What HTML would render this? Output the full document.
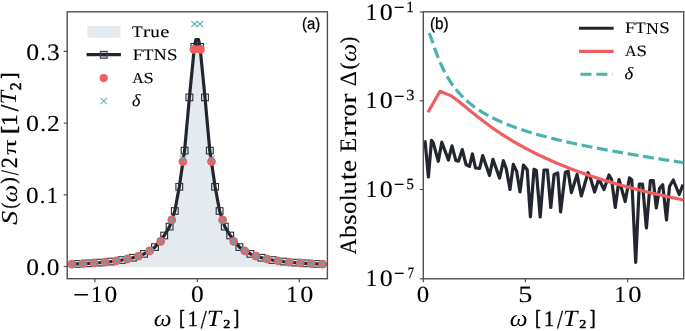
<!DOCTYPE html><html><head><meta charset="utf-8"><style>html,body{margin:0;padding:0;background:#fff;}svg{display:block;font-kerning:none;will-change:transform;} text{font-kerning:none;text-rendering:geometricPrecision;}</style></head><body><svg width="685" height="331" viewBox="0 0 685 331"><defs><clipPath id="clipL"><rect x="67.20" y="11.80" width="260.20" height="266.90"/></clipPath><clipPath id="clipR"><rect x="423.30" y="11.80" width="260.40" height="267.00"/></clipPath></defs><rect width="685" height="331" fill="#fff"/><path d="M67.20 266.90 L67.20 264.29 L67.85 264.26 L68.50 264.24 L69.15 264.22 L69.80 264.20 L70.45 264.17 L71.10 264.15 L71.75 264.12 L72.40 264.10 L73.05 264.08 L73.70 264.05 L74.36 264.02 L75.01 264.00 L75.66 263.97 L76.31 263.94 L76.96 263.92 L77.61 263.89 L78.26 263.86 L78.91 263.83 L79.56 263.80 L80.21 263.77 L80.86 263.74 L81.51 263.71 L82.16 263.68 L82.81 263.65 L83.46 263.62 L84.11 263.58 L84.76 263.55 L85.41 263.52 L86.06 263.48 L86.72 263.45 L87.37 263.41 L88.02 263.37 L88.67 263.34 L89.32 263.30 L89.97 263.26 L90.62 263.22 L91.27 263.18 L91.92 263.14 L92.57 263.10 L93.22 263.06 L93.87 263.02 L94.52 262.97 L95.17 262.93 L95.82 262.88 L96.47 262.84 L97.12 262.79 L97.77 262.74 L98.42 262.69 L99.07 262.64 L99.72 262.59 L100.38 262.54 L101.03 262.49 L101.68 262.43 L102.33 262.38 L102.98 262.32 L103.63 262.27 L104.28 262.21 L104.93 262.15 L105.58 262.09 L106.23 262.03 L106.88 261.96 L107.53 261.90 L108.18 261.83 L108.83 261.76 L109.48 261.69 L110.13 261.62 L110.78 261.55 L111.43 261.48 L112.08 261.40 L112.73 261.33 L113.39 261.25 L114.04 261.17 L114.69 261.08 L115.34 261.00 L115.99 260.91 L116.64 260.83 L117.29 260.73 L117.94 260.64 L118.59 260.55 L119.24 260.45 L119.89 260.35 L120.54 260.25 L121.19 260.14 L121.84 260.04 L122.49 259.93 L123.14 259.82 L123.79 259.70 L124.44 259.58 L125.09 259.46 L125.75 259.34 L126.40 259.21 L127.05 259.08 L127.70 258.94 L128.35 258.80 L129.00 258.66 L129.65 258.51 L130.30 258.36 L130.95 258.21 L131.60 258.05 L132.25 257.89 L132.90 257.72 L133.55 257.54 L134.20 257.37 L134.85 257.18 L135.50 256.99 L136.15 256.80 L136.80 256.60 L137.45 256.39 L138.10 256.18 L138.75 255.95 L139.41 255.73 L140.06 255.49 L140.71 255.25 L141.36 255.00 L142.01 254.74 L142.66 254.47 L143.31 254.20 L143.96 253.91 L144.61 253.62 L145.26 253.31 L145.91 252.99 L146.56 252.67 L147.21 252.33 L147.86 251.97 L148.51 251.61 L149.16 251.23 L149.81 250.84 L150.46 250.43 L151.11 250.01 L151.76 249.57 L152.42 249.11 L153.07 248.63 L153.72 248.14 L154.37 247.62 L155.02 247.09 L155.67 246.53 L156.32 245.94 L156.97 245.34 L157.62 244.70 L158.27 244.04 L158.92 243.35 L159.57 242.63 L160.22 241.87 L160.87 241.08 L161.52 240.25 L162.17 239.39 L162.82 238.48 L163.47 237.53 L164.12 236.53 L164.78 235.48 L165.43 234.38 L166.08 233.22 L166.73 232.00 L167.38 230.72 L168.03 229.37 L168.68 227.95 L169.33 226.45 L169.98 224.87 L170.63 223.20 L171.28 221.44 L171.93 219.57 L172.58 217.60 L173.23 215.51 L173.88 213.31 L174.53 210.97 L175.18 208.49 L175.83 205.86 L176.48 203.07 L177.13 200.12 L177.78 196.98 L178.44 193.65 L179.09 190.11 L179.74 186.36 L180.39 182.38 L181.04 178.17 L181.69 173.69 L182.34 168.96 L182.99 163.95 L183.64 158.66 L184.29 153.09 L184.94 147.22 L185.59 141.08 L186.24 134.65 L186.89 127.96 L187.54 121.03 L188.19 113.90 L188.84 106.60 L189.49 99.20 L190.14 91.77 L190.80 84.39 L191.45 77.17 L192.10 70.23 L192.75 63.67 L193.40 57.65 L194.05 52.29 L194.70 47.73 L195.35 44.08 L196.00 41.45 L196.65 39.91 L197.30 39.51 L197.95 40.27 L198.60 42.15 L199.25 45.10 L199.90 49.04 L200.55 53.86 L201.20 59.44 L201.85 65.64 L202.50 72.33 L203.15 79.37 L203.81 86.65 L204.46 94.05 L205.11 101.48 L205.76 108.86 L206.41 116.11 L207.06 123.18 L207.71 130.04 L208.36 136.65 L209.01 143.00 L209.66 149.06 L210.31 154.83 L210.96 160.32 L211.61 165.52 L212.26 170.44 L212.91 175.10 L213.56 179.49 L214.21 183.63 L214.86 187.54 L215.51 191.22 L216.16 194.69 L216.81 197.96 L217.47 201.04 L218.12 203.95 L218.77 206.68 L219.42 209.27 L220.07 211.70 L220.72 214.00 L221.37 216.17 L222.02 218.22 L222.67 220.16 L223.32 221.99 L223.97 223.72 L224.62 225.37 L225.27 226.92 L225.92 228.40 L226.57 229.80 L227.22 231.12 L227.87 232.38 L228.52 233.58 L229.17 234.72 L229.82 235.81 L230.48 236.84 L231.13 237.83 L231.78 238.76 L232.43 239.66 L233.08 240.51 L233.73 241.33 L234.38 242.11 L235.03 242.85 L235.68 243.57 L236.33 244.25 L236.98 244.90 L237.63 245.53 L238.28 246.13 L238.93 246.70 L239.58 247.25 L240.23 247.78 L240.88 248.29 L241.53 248.78 L242.18 249.25 L242.83 249.70 L243.49 250.14 L244.14 250.56 L244.79 250.96 L245.44 251.35 L246.09 251.72 L246.74 252.08 L247.39 252.43 L248.04 252.77 L248.69 253.09 L249.34 253.41 L249.99 253.71 L250.64 254.00 L251.29 254.28 L251.94 254.56 L252.59 254.82 L253.24 255.08 L253.89 255.33 L254.54 255.57 L255.19 255.80 L255.85 256.02 L256.50 256.24 L257.15 256.45 L257.80 256.66 L258.45 256.86 L259.10 257.05 L259.75 257.24 L260.40 257.42 L261.05 257.60 L261.70 257.77 L262.35 257.94 L263.00 258.10 L263.65 258.26 L264.30 258.41 L264.95 258.56 L265.60 258.70 L266.25 258.85 L266.90 258.98 L267.55 259.12 L268.20 259.25 L268.86 259.37 L269.51 259.50 L270.16 259.62 L270.81 259.74 L271.46 259.85 L272.11 259.96 L272.76 260.07 L273.41 260.18 L274.06 260.28 L274.71 260.38 L275.36 260.48 L276.01 260.58 L276.66 260.67 L277.31 260.76 L277.96 260.85 L278.61 260.94 L279.26 261.03 L279.91 261.11 L280.56 261.19 L281.21 261.27 L281.87 261.35 L282.52 261.43 L283.17 261.50 L283.82 261.57 L284.47 261.65 L285.12 261.72 L285.77 261.78 L286.42 261.85 L287.07 261.92 L287.72 261.98 L288.37 262.04 L289.02 262.11 L289.67 262.17 L290.32 262.23 L290.97 262.28 L291.62 262.34 L292.27 262.40 L292.92 262.45 L293.57 262.50 L294.22 262.56 L294.88 262.61 L295.53 262.66 L296.18 262.71 L296.83 262.76 L297.48 262.80 L298.13 262.85 L298.78 262.90 L299.43 262.94 L300.08 262.99 L300.73 263.03 L301.38 263.07 L302.03 263.11 L302.68 263.15 L303.33 263.20 L303.98 263.23 L304.63 263.27 L305.28 263.31 L305.93 263.35 L306.58 263.39 L307.23 263.42 L307.88 263.46 L308.54 263.49 L309.19 263.53 L309.84 263.56 L310.49 263.59 L311.14 263.63 L311.79 263.66 L312.44 263.69 L313.09 263.72 L313.74 263.75 L314.39 263.78 L315.04 263.81 L315.69 263.84 L316.34 263.87 L316.99 263.90 L317.64 263.93 L318.29 263.95 L318.94 263.98 L319.59 264.01 L320.24 264.03 L320.89 264.06 L321.55 264.08 L322.20 264.11 L322.85 264.13 L323.50 264.16 L324.15 264.18 L324.80 264.20 L325.45 264.23 L326.10 264.25 L326.75 264.27 L327.40 264.29 L327.40 266.90 Z" fill="#e4eaed"/>
<g clip-path="url(#clipL)"><path d="M66.20 264.32 L77.40 263.90 L88.50 263.35 L99.60 262.60 L110.70 261.56 L121.80 260.04 L132.90 257.72 L144.00 253.89 L155.00 247.10 L164.20 235.50 L169.60 226.60 L174.80 211.00 L179.30 186.80 L184.60 150.60 L189.40 97.40 L194.40 46.80 L195.90 39.70 L198.50 39.70 L200.00 46.80 L205.00 97.40 L209.80 150.60 L215.10 186.80 L219.60 211.00 L224.80 226.60 L230.20 235.50 L239.40 247.10 L250.40 253.89 L261.50 257.72 L272.60 260.04 L283.70 261.56 L294.80 262.60 L305.90 263.35 L317.00 263.90 L328.20 264.32" fill="none" stroke="#24262f" stroke-width="3.2" stroke-linejoin="round"/>
<rect x="191.00" y="43.50" width="6.8" height="6.6" fill="none" stroke="#2b2d38" stroke-width="1.1"/>
<rect x="196.60" y="43.50" width="6.8" height="6.6" fill="none" stroke="#2b2d38" stroke-width="1.1"/>
<rect x="186.00" y="94.10" width="6.8" height="6.6" fill="none" stroke="#2b2d38" stroke-width="1.1"/>
<rect x="201.60" y="94.10" width="6.8" height="6.6" fill="none" stroke="#2b2d38" stroke-width="1.1"/>
<rect x="181.20" y="147.30" width="6.8" height="6.6" fill="none" stroke="#2b2d38" stroke-width="1.1"/>
<rect x="206.40" y="147.30" width="6.8" height="6.6" fill="none" stroke="#2b2d38" stroke-width="1.1"/>
<rect x="175.90" y="183.50" width="6.8" height="6.6" fill="none" stroke="#2b2d38" stroke-width="1.1"/>
<rect x="211.70" y="183.50" width="6.8" height="6.6" fill="none" stroke="#2b2d38" stroke-width="1.1"/>
<rect x="171.40" y="207.70" width="6.8" height="6.6" fill="none" stroke="#2b2d38" stroke-width="1.1"/>
<rect x="216.20" y="207.70" width="6.8" height="6.6" fill="none" stroke="#2b2d38" stroke-width="1.1"/>
<rect x="166.20" y="223.30" width="6.8" height="6.6" fill="none" stroke="#2b2d38" stroke-width="1.1"/>
<rect x="221.40" y="223.30" width="6.8" height="6.6" fill="none" stroke="#2b2d38" stroke-width="1.1"/>
<rect x="160.80" y="232.20" width="6.8" height="6.6" fill="none" stroke="#2b2d38" stroke-width="1.1"/>
<rect x="226.80" y="232.20" width="6.8" height="6.6" fill="none" stroke="#2b2d38" stroke-width="1.1"/>
<rect x="151.60" y="243.80" width="6.8" height="6.6" fill="none" stroke="#2b2d38" stroke-width="1.1"/>
<rect x="236.00" y="243.80" width="6.8" height="6.6" fill="none" stroke="#2b2d38" stroke-width="1.1"/>
<rect x="140.60" y="250.59" width="6.8" height="6.6" fill="none" stroke="#2b2d38" stroke-width="1.1"/>
<rect x="247.00" y="250.59" width="6.8" height="6.6" fill="none" stroke="#2b2d38" stroke-width="1.1"/>
<rect x="129.50" y="254.42" width="6.8" height="6.6" fill="none" stroke="#2b2d38" stroke-width="1.1"/>
<rect x="258.10" y="254.42" width="6.8" height="6.6" fill="none" stroke="#2b2d38" stroke-width="1.1"/>
<rect x="118.40" y="256.74" width="6.8" height="6.6" fill="none" stroke="#2b2d38" stroke-width="1.1"/>
<rect x="269.20" y="256.74" width="6.8" height="6.6" fill="none" stroke="#2b2d38" stroke-width="1.1"/>
<rect x="107.30" y="258.26" width="6.8" height="6.6" fill="none" stroke="#2b2d38" stroke-width="1.1"/>
<rect x="280.30" y="258.26" width="6.8" height="6.6" fill="none" stroke="#2b2d38" stroke-width="1.1"/>
<rect x="96.20" y="259.30" width="6.8" height="6.6" fill="none" stroke="#2b2d38" stroke-width="1.1"/>
<rect x="291.40" y="259.30" width="6.8" height="6.6" fill="none" stroke="#2b2d38" stroke-width="1.1"/>
<rect x="85.10" y="260.05" width="6.8" height="6.6" fill="none" stroke="#2b2d38" stroke-width="1.1"/>
<rect x="302.50" y="260.05" width="6.8" height="6.6" fill="none" stroke="#2b2d38" stroke-width="1.1"/>
<rect x="74.00" y="260.60" width="6.8" height="6.6" fill="none" stroke="#2b2d38" stroke-width="1.1"/>
<rect x="313.60" y="260.60" width="6.8" height="6.6" fill="none" stroke="#2b2d38" stroke-width="1.1"/>
<circle cx="194.00" cy="49.40" r="4.4" fill="#ef5f60"/>
<circle cx="200.40" cy="49.40" r="4.4" fill="#ef5f60"/>
<circle cx="182.90" cy="161.50" r="4.4" fill="#ef5f60"/>
<circle cx="211.50" cy="161.50" r="4.4" fill="#ef5f60"/>
<circle cx="171.80" cy="219.95" r="4.4" fill="#ef5f60"/>
<circle cx="222.60" cy="219.95" r="4.4" fill="#ef5f60"/>
<circle cx="160.70" cy="241.29" r="4.4" fill="#ef5f60"/>
<circle cx="233.70" cy="241.29" r="4.4" fill="#ef5f60"/>
<circle cx="149.60" cy="250.97" r="4.4" fill="#ef5f60"/>
<circle cx="244.80" cy="250.97" r="4.4" fill="#ef5f60"/>
<circle cx="138.50" cy="256.04" r="4.4" fill="#ef5f60"/>
<circle cx="255.90" cy="256.04" r="4.4" fill="#ef5f60"/>
<circle cx="127.40" cy="259.00" r="4.4" fill="#ef5f60"/>
<circle cx="267.00" cy="259.00" r="4.4" fill="#ef5f60"/>
<circle cx="116.30" cy="260.87" r="4.4" fill="#ef5f60"/>
<circle cx="278.10" cy="260.87" r="4.4" fill="#ef5f60"/>
<circle cx="105.20" cy="262.12" r="4.4" fill="#ef5f60"/>
<circle cx="289.20" cy="262.12" r="4.4" fill="#ef5f60"/>
<circle cx="94.10" cy="263.00" r="4.4" fill="#ef5f60"/>
<circle cx="300.30" cy="263.00" r="4.4" fill="#ef5f60"/>
<circle cx="83.00" cy="263.64" r="4.4" fill="#ef5f60"/>
<circle cx="311.40" cy="263.64" r="4.4" fill="#ef5f60"/>
<circle cx="71.90" cy="264.12" r="4.4" fill="#ef5f60"/>
<circle cx="322.50" cy="264.12" r="4.4" fill="#ef5f60"/>
<path d="M191.20 20.80L197.60 27.20M191.20 27.20L197.60 20.80" stroke="#4bb1b1" stroke-width="1.05" fill="none"/>
<path d="M196.80 20.80L203.20 27.20M196.80 27.20L203.20 20.80" stroke="#4bb1b1" stroke-width="1.05" fill="none"/>
<path d="M179.70 155.50L186.10 161.90M179.70 161.90L186.10 155.50" stroke="#4bb1b1" stroke-width="1.05" fill="none"/>
<path d="M208.30 155.50L214.70 161.90M208.30 161.90L214.70 155.50" stroke="#4bb1b1" stroke-width="1.05" fill="none"/>
<path d="M168.60 216.75L175.00 223.15M168.60 223.15L175.00 216.75" stroke="#4bb1b1" stroke-width="1.05" fill="none"/>
<path d="M219.40 216.75L225.80 223.15M219.40 223.15L225.80 216.75" stroke="#4bb1b1" stroke-width="1.05" fill="none"/>
<path d="M157.50 238.09L163.90 244.49M157.50 244.49L163.90 238.09" stroke="#4bb1b1" stroke-width="1.05" fill="none"/>
<path d="M230.50 238.09L236.90 244.49M230.50 244.49L236.90 238.09" stroke="#4bb1b1" stroke-width="1.05" fill="none"/>
<path d="M146.40 247.77L152.80 254.17M146.40 254.17L152.80 247.77" stroke="#4bb1b1" stroke-width="1.05" fill="none"/>
<path d="M241.60 247.77L248.00 254.17M241.60 254.17L248.00 247.77" stroke="#4bb1b1" stroke-width="1.05" fill="none"/>
<path d="M135.30 252.84L141.70 259.24M135.30 259.24L141.70 252.84" stroke="#4bb1b1" stroke-width="1.05" fill="none"/>
<path d="M252.70 252.84L259.10 259.24M252.70 259.24L259.10 252.84" stroke="#4bb1b1" stroke-width="1.05" fill="none"/>
<path d="M124.20 255.80L130.60 262.20M124.20 262.20L130.60 255.80" stroke="#4bb1b1" stroke-width="1.05" fill="none"/>
<path d="M263.80 255.80L270.20 262.20M263.80 262.20L270.20 255.80" stroke="#4bb1b1" stroke-width="1.05" fill="none"/>
<path d="M113.10 257.67L119.50 264.07M113.10 264.07L119.50 257.67" stroke="#4bb1b1" stroke-width="1.05" fill="none"/>
<path d="M274.90 257.67L281.30 264.07M274.90 264.07L281.30 257.67" stroke="#4bb1b1" stroke-width="1.05" fill="none"/>
<path d="M102.00 258.92L108.40 265.32M102.00 265.32L108.40 258.92" stroke="#4bb1b1" stroke-width="1.05" fill="none"/>
<path d="M286.00 258.92L292.40 265.32M286.00 265.32L292.40 258.92" stroke="#4bb1b1" stroke-width="1.05" fill="none"/>
<path d="M90.90 259.80L97.30 266.20M90.90 266.20L97.30 259.80" stroke="#4bb1b1" stroke-width="1.05" fill="none"/>
<path d="M297.10 259.80L303.50 266.20M297.10 266.20L303.50 259.80" stroke="#4bb1b1" stroke-width="1.05" fill="none"/>
<path d="M79.80 260.44L86.20 266.84M79.80 266.84L86.20 260.44" stroke="#4bb1b1" stroke-width="1.05" fill="none"/>
<path d="M308.20 260.44L314.60 266.84M308.20 266.84L314.60 260.44" stroke="#4bb1b1" stroke-width="1.05" fill="none"/>
<path d="M68.70 260.92L75.10 267.32M68.70 267.32L75.10 260.92" stroke="#4bb1b1" stroke-width="1.05" fill="none"/>
<path d="M319.30 260.92L325.70 267.32M319.30 267.32L325.70 260.92" stroke="#4bb1b1" stroke-width="1.05" fill="none"/>
</g>
<rect x="67.20" y="11.80" width="260.20" height="266.90" fill="none" stroke="#505050" stroke-width="1.4"/>
<path d="M63.70 266.50H67.20" stroke="#505050" stroke-width="1.2"/>
<path d="M63.70 194.80H67.20" stroke="#505050" stroke-width="1.2"/>
<path d="M63.70 123.10H67.20" stroke="#505050" stroke-width="1.2"/>
<path d="M63.70 51.40H67.20" stroke="#505050" stroke-width="1.2"/>
<path d="M94.90 278.70V282.20" stroke="#505050" stroke-width="1.2"/>
<path d="M197.40 278.70V282.20" stroke="#505050" stroke-width="1.2"/>
<path d="M299.40 278.70V282.20" stroke="#505050" stroke-width="1.2"/>
<text transform="translate(26.19 274.81) scale(1.0585 0.9929)" font-family='"Liberation Serif", serif' font-style="normal" font-size="24.00" fill="#000" stroke="#000" stroke-width="0.117" stroke-linejoin="round">0</text>
<text transform="translate(40.02 274.72) scale(0.9472 0.9423)" font-family='"Liberation Serif", serif' font-style="normal" font-size="24.00" fill="#000" stroke="#000" stroke-width="0.127" stroke-linejoin="round">.</text>
<text transform="translate(46.81 274.81) scale(1.0585 0.9929)" font-family='"Liberation Serif", serif' font-style="normal" font-size="24.00" fill="#000" stroke="#000" stroke-width="0.117" stroke-linejoin="round">0</text>
<text transform="translate(26.05 202.91) scale(1.0508 0.9682)" font-family='"Liberation Serif", serif' font-style="normal" font-size="24.00" fill="#000" stroke="#000" stroke-width="0.119" stroke-linejoin="round">0</text>
<text transform="translate(39.78 202.83) scale(0.9400 0.9180)" font-family='"Liberation Serif", serif' font-style="normal" font-size="24.00" fill="#000" stroke="#000" stroke-width="0.129" stroke-linejoin="round">.</text>
<text transform="translate(46.72 202.84) scale(0.9303 0.9710)" font-family='"Liberation Serif", serif' font-style="normal" font-size="24.00" fill="#000" stroke="#000" stroke-width="0.126" stroke-linejoin="round">1</text>
<text transform="translate(26.02 131.01) scale(1.0806 0.9620)" font-family='"Liberation Serif", serif' font-style="normal" font-size="24.00" fill="#000" stroke="#000" stroke-width="0.117" stroke-linejoin="round">0</text>
<text transform="translate(40.13 130.93) scale(0.9676 0.9119)" font-family='"Liberation Serif", serif' font-style="normal" font-size="24.00" fill="#000" stroke="#000" stroke-width="0.128" stroke-linejoin="round">.</text>
<text transform="translate(46.97 130.95) scale(1.0652 0.9620)" font-family='"Liberation Serif", serif' font-style="normal" font-size="24.00" fill="#000" stroke="#000" stroke-width="0.118" stroke-linejoin="round">2</text>
<text transform="translate(26.18 59.71) scale(1.0711 0.9805)" font-family='"Liberation Serif", serif' font-style="normal" font-size="24.00" fill="#000" stroke="#000" stroke-width="0.117" stroke-linejoin="round">0</text>
<text transform="translate(40.17 59.62) scale(0.9588 0.9302)" font-family='"Liberation Serif", serif' font-style="normal" font-size="24.00" fill="#000" stroke="#000" stroke-width="0.127" stroke-linejoin="round">.</text>
<text transform="translate(47.02 59.71) scale(1.0591 0.9848)" font-family='"Liberation Serif", serif' font-style="normal" font-size="24.00" fill="#000" stroke="#000" stroke-width="0.117" stroke-linejoin="round">3</text>
<text transform="translate(73.02 305.37) scale(1.2040 1.2820)" font-family='"Liberation Serif", serif' font-style="normal" font-size="24.00" fill="#000" stroke="#000" stroke-width="0.097" stroke-linejoin="round">−</text>
<text transform="translate(90.98 301.64) scale(0.9401 0.9710)" font-family='"Liberation Serif", serif' font-style="normal" font-size="24.00" fill="#000" stroke="#000" stroke-width="0.126" stroke-linejoin="round">1</text>
<text transform="translate(104.57 301.71) scale(1.0618 0.9682)" font-family='"Liberation Serif", serif' font-style="normal" font-size="24.00" fill="#000" stroke="#000" stroke-width="0.118" stroke-linejoin="round">0</text>
<text transform="translate(190.89 301.81) scale(1.0598 0.9805)" font-family='"Liberation Serif", serif' font-style="normal" font-size="24.00" fill="#000" stroke="#000" stroke-width="0.118" stroke-linejoin="round">0</text>
<text transform="translate(286.22 301.64) scale(0.9648 0.9710)" font-family='"Liberation Serif", serif' font-style="normal" font-size="24.00" fill="#000" stroke="#000" stroke-width="0.124" stroke-linejoin="round">1</text>
<text transform="translate(300.16 301.71) scale(1.0896 0.9682)" font-family='"Liberation Serif", serif' font-style="normal" font-size="24.00" fill="#000" stroke="#000" stroke-width="0.117" stroke-linejoin="round">0</text>
<text transform="translate(153.66 325.97) scale(1.0534 0.9752)" font-family='"Liberation Serif", serif' font-style="italic" font-size="24.00" fill="#000">ω</text>
<text transform="translate(179.15 325.49) scale(0.6737 0.8911)" font-family='"Liberation Serif", serif' font-style="normal" font-size="24.00" fill="#000" stroke="#000" stroke-width="0.895" stroke-linejoin="round">[</text>
<text transform="translate(187.79 325.82) scale(0.8462 0.9183)" font-family='"Liberation Serif", serif' font-style="normal" font-size="24.00" fill="#000" stroke="#000" stroke-width="0.397" stroke-linejoin="round">1</text>
<text transform="translate(200.85 327.90) scale(0.8998 1.0776)" font-family='"Liberation Serif", serif' font-style="normal" font-size="24.00" fill="#000" stroke="#000" stroke-width="0.303" stroke-linejoin="round">/</text>
<text transform="translate(206.81 326.40) scale(1.0761 0.9736)" font-family='"Liberation Serif", serif' font-style="italic" font-size="24.00" fill="#000">T</text>
<text transform="translate(223.16 328.43) scale(0.5873 0.5066)" font-family='"Liberation Serif", serif' font-style="normal" font-size="24.00" fill="#000" stroke="#000" stroke-width="1.006" stroke-linejoin="round">2</text>
<text transform="translate(233.87 325.49) scale(0.6737 0.8911)" font-family='"Liberation Serif", serif' font-style="normal" font-size="24.00" fill="#000" stroke="#000" stroke-width="0.895" stroke-linejoin="round">]</text>
<text transform="translate(509.86 325.97) scale(1.0534 0.9752)" font-family='"Liberation Serif", serif' font-style="italic" font-size="24.00" fill="#000">ω</text>
<text transform="translate(535.35 325.49) scale(0.6737 0.8911)" font-family='"Liberation Serif", serif' font-style="normal" font-size="24.00" fill="#000" stroke="#000" stroke-width="0.895" stroke-linejoin="round">[</text>
<text transform="translate(543.99 325.82) scale(0.8462 0.9183)" font-family='"Liberation Serif", serif' font-style="normal" font-size="24.00" fill="#000" stroke="#000" stroke-width="0.397" stroke-linejoin="round">1</text>
<text transform="translate(557.05 327.90) scale(0.8998 1.0776)" font-family='"Liberation Serif", serif' font-style="normal" font-size="24.00" fill="#000" stroke="#000" stroke-width="0.303" stroke-linejoin="round">/</text>
<text transform="translate(563.01 326.40) scale(1.0761 0.9736)" font-family='"Liberation Serif", serif' font-style="italic" font-size="24.00" fill="#000">T</text>
<text transform="translate(579.36 328.43) scale(0.5873 0.5066)" font-family='"Liberation Serif", serif' font-style="normal" font-size="24.00" fill="#000" stroke="#000" stroke-width="1.006" stroke-linejoin="round">2</text>
<text transform="translate(590.07 325.49) scale(0.6737 0.8911)" font-family='"Liberation Serif", serif' font-style="normal" font-size="24.00" fill="#000" stroke="#000" stroke-width="0.895" stroke-linejoin="round">]</text>
<text transform="translate(16.93 224.68) rotate(-90) scale(1.1648 0.9488)" font-family='"Liberation Serif", serif' font-style="italic" font-size="24.00" fill="#000" stroke="#000" stroke-width="0.095" stroke-linejoin="round">S</text>
<text transform="translate(15.80 208.55) rotate(-90) scale(0.6895 0.8662)" font-family='"Liberation Serif", serif' font-style="normal" font-size="24.00" fill="#000" stroke="#000" stroke-width="0.450" stroke-linejoin="round">(</text>
<text transform="translate(16.78 202.21) rotate(-90) scale(1.0203 0.9578)" font-family='"Liberation Serif", serif' font-style="italic" font-size="24.00" fill="#000">ω</text>
<text transform="translate(15.40 183.66) rotate(-90) scale(0.8193 0.8662)" font-family='"Liberation Serif", serif' font-style="normal" font-size="24.00" fill="#000" stroke="#000" stroke-width="0.415" stroke-linejoin="round">)</text>
<text transform="translate(18.21 175.25) rotate(-90) scale(0.7649 1.0402)" font-family='"Liberation Serif", serif' font-style="normal" font-size="24.00" fill="#000" stroke="#000" stroke-width="0.332" stroke-linejoin="round">/</text>
<text transform="translate(16.65 168.23) rotate(-90) scale(0.9251 0.9628)" font-family='"Liberation Serif", serif' font-style="normal" font-size="24.00" fill="#000" stroke="#000" stroke-width="0.318" stroke-linejoin="round">2</text>
<text transform="translate(16.36 155.07) rotate(-90) scale(1.2778 0.8000)" font-family='"Liberation Serif", serif' font-style="normal" font-size="24.00" fill="#000" stroke="#000" stroke-width="0.096" stroke-linejoin="round">π</text>
<text transform="translate(16.39 134.08) rotate(-90) scale(1.0292 0.8911)" font-family='"Liberation Serif", serif' font-style="normal" font-size="24.00" fill="#000" stroke="#000" stroke-width="0.729" stroke-linejoin="round">[</text>
<text transform="translate(16.52 125.98) rotate(-90) scale(0.9764 0.9562)" font-family='"Liberation Serif", serif' font-style="normal" font-size="24.00" fill="#000" stroke="#000" stroke-width="0.362" stroke-linejoin="round">1</text>
<text transform="translate(18.40 111.35) rotate(-90) scale(0.9748 1.0651)" font-family='"Liberation Serif", serif' font-style="normal" font-size="24.00" fill="#000" stroke="#000" stroke-width="0.294" stroke-linejoin="round">/</text>
<text transform="translate(16.10 104.27) rotate(-90) scale(1.0004 0.9736)" font-family='"Liberation Serif", serif' font-style="italic" font-size="24.00" fill="#000">T</text>
<text transform="translate(20.53 90.22) rotate(-90) scale(0.6600 0.6702)" font-family='"Liberation Serif", serif' font-style="normal" font-size="24.00" fill="#000" stroke="#000" stroke-width="0.827" stroke-linejoin="round">2</text>
<text transform="translate(16.37 78.57) rotate(-90) scale(0.7111 0.8961)" font-family='"Liberation Serif", serif' font-style="normal" font-size="24.00" fill="#000" stroke="#000" stroke-width="0.871" stroke-linejoin="round">]</text>
<text transform="translate(302.00 29.23) scale(0.8758 0.9503)" font-family='"Liberation Sans", sans-serif' font-style="normal" font-size="17.00" fill="#000" stroke="#000" stroke-width="0.274" stroke-linejoin="round">(a)</text>
<rect x="87.4" y="25.9" width="33" height="11.8" fill="#e4eaed"/>
<rect x="100.4" y="51.4" width="6.7" height="6.8" fill="#c4c5cb"/>
<path d="M86.6 54.6H120.9" stroke="#24262f" stroke-width="3.2"/>
<rect x="100.4" y="51.4" width="6.7" height="6.8" fill="none" stroke="#45474f" stroke-width="1.2"/>
<circle cx="103.7" cy="78.1" r="4.1" fill="#ef5f60"/>
<path d="M100.55 97.85L106.95 104.25M100.55 104.25L106.95 97.85" stroke="#4bb1b1" stroke-width="1.05" fill="none"/>
<text transform="translate(132.04 37.34) scale(1.0000 0.9297)" font-family='"Liberation Serif", serif' font-style="normal" font-size="17.40" fill="#000" stroke="#000" stroke-width="0.104" stroke-linejoin="round">T</text>
<text transform="translate(142.74 37.34) scale(1.2866 0.9417)" font-family='"Liberation Serif", serif' font-style="normal" font-size="17.40" fill="#000" stroke="#000" stroke-width="0.090" stroke-linejoin="round">r</text>
<text transform="translate(150.27 37.39) scale(1.0976 0.9466)" font-family='"Liberation Serif", serif' font-style="normal" font-size="17.40" fill="#000" stroke="#000" stroke-width="0.098" stroke-linejoin="round">u</text>
<text transform="translate(160.15 37.39) scale(1.1796 0.9474)" font-family='"Liberation Serif", serif' font-style="normal" font-size="17.40" fill="#000" stroke="#000" stroke-width="0.094" stroke-linejoin="round">e</text>
<text transform="translate(132.71 60.14) scale(1.0683 0.9218)" font-family='"Liberation Serif", serif' font-style="normal" font-size="17.40" fill="#000" stroke="#000" stroke-width="0.100" stroke-linejoin="round">F</text>
<text transform="translate(142.97 60.14) scale(0.9891 0.9218)" font-family='"Liberation Serif", serif' font-style="normal" font-size="17.40" fill="#000" stroke="#000" stroke-width="0.105" stroke-linejoin="round">T</text>
<text transform="translate(153.69 60.35) scale(1.0288 0.9399)" font-family='"Liberation Serif", serif' font-style="normal" font-size="17.40" fill="#000" stroke="#000" stroke-width="0.102" stroke-linejoin="round">N</text>
<text transform="translate(167.02 60.19) scale(1.0850 0.9324)" font-family='"Liberation Serif", serif' font-style="normal" font-size="17.40" fill="#000" stroke="#000" stroke-width="0.099" stroke-linejoin="round">S</text>
<text transform="translate(132.30 83.25) scale(0.9030 0.8723)" font-family='"Liberation Serif", serif' font-style="normal" font-size="17.40" fill="#000" stroke="#000" stroke-width="0.113" stroke-linejoin="round">A</text>
<text transform="translate(143.52 83.30) scale(1.0623 0.8896)" font-family='"Liberation Serif", serif' font-style="normal" font-size="17.40" fill="#000" stroke="#000" stroke-width="0.102" stroke-linejoin="round">S</text>
<text transform="translate(131.92 105.98) scale(1.0374 0.9815)" font-family='"Liberation Serif", serif' font-style="italic" font-size="17.40" fill="#000" stroke="#000" stroke-width="0.099" stroke-linejoin="round">δ</text>
<rect x="423.30" y="11.80" width="260.40" height="267.00" fill="none" stroke="#505050" stroke-width="1.4"/>
<path d="M419.80 12.00H423.30" stroke="#505050" stroke-width="1.2"/>
<path d="M419.80 100.80H423.30" stroke="#505050" stroke-width="1.2"/>
<path d="M419.80 189.50H423.30" stroke="#505050" stroke-width="1.2"/>
<path d="M419.80 278.80H423.30" stroke="#505050" stroke-width="1.2"/>
<path d="M423.30 278.80V282.30" stroke="#505050" stroke-width="1.2"/>
<path d="M525.40 278.80V282.30" stroke="#505050" stroke-width="1.2"/>
<path d="M627.60 278.80V282.30" stroke="#505050" stroke-width="1.2"/>
<text transform="translate(365.84 19.59) scale(0.9567 0.9896)" font-family='"Liberation Serif", serif' font-style="normal" font-size="24.00" fill="#000" stroke="#000" stroke-width="0.123" stroke-linejoin="round">1</text>
<text transform="translate(379.66 19.66) scale(1.0805 0.9867)" font-family='"Liberation Serif", serif' font-style="normal" font-size="24.00" fill="#000" stroke="#000" stroke-width="0.116" stroke-linejoin="round">0</text>
<text transform="translate(393.84 16.12) scale(1.1052 1.4915)" font-family='"Liberation Serif", serif' font-style="normal" font-size="17.50" fill="#000">−</text>
<text transform="translate(406.41 11.78) scale(0.5977 0.6501)" font-family='"Liberation Serif", serif' font-style="normal" font-size="24.00" fill="#000" stroke="#000" stroke-width="0.401" stroke-linejoin="round">1</text>
<text transform="translate(365.84 108.29) scale(0.9567 0.9896)" font-family='"Liberation Serif", serif' font-style="normal" font-size="24.00" fill="#000" stroke="#000" stroke-width="0.123" stroke-linejoin="round">1</text>
<text transform="translate(379.66 108.36) scale(1.0805 0.9867)" font-family='"Liberation Serif", serif' font-style="normal" font-size="24.00" fill="#000" stroke="#000" stroke-width="0.116" stroke-linejoin="round">0</text>
<text transform="translate(393.84 104.82) scale(1.1052 1.4915)" font-family='"Liberation Serif", serif' font-style="normal" font-size="17.50" fill="#000">−</text>
<text transform="translate(406.19 100.33) scale(0.6809 0.6388)" font-family='"Liberation Serif", serif' font-style="normal" font-size="24.00" fill="#000" stroke="#000" stroke-width="0.379" stroke-linejoin="round">3</text>
<text transform="translate(365.84 196.89) scale(0.9567 0.9896)" font-family='"Liberation Serif", serif' font-style="normal" font-size="24.00" fill="#000" stroke="#000" stroke-width="0.123" stroke-linejoin="round">1</text>
<text transform="translate(379.66 196.96) scale(1.0805 0.9867)" font-family='"Liberation Serif", serif' font-style="normal" font-size="24.00" fill="#000" stroke="#000" stroke-width="0.116" stroke-linejoin="round">0</text>
<text transform="translate(393.84 193.42) scale(1.1052 1.4915)" font-family='"Liberation Serif", serif' font-style="normal" font-size="17.50" fill="#000">−</text>
<text transform="translate(406.52 188.92) scale(0.6154 0.6458)" font-family='"Liberation Serif", serif' font-style="normal" font-size="24.00" fill="#000" stroke="#000" stroke-width="0.396" stroke-linejoin="round">5</text>
<text transform="translate(365.84 285.89) scale(0.9567 0.9896)" font-family='"Liberation Serif", serif' font-style="normal" font-size="24.00" fill="#000" stroke="#000" stroke-width="0.123" stroke-linejoin="round">1</text>
<text transform="translate(379.66 285.96) scale(1.0805 0.9867)" font-family='"Liberation Serif", serif' font-style="normal" font-size="24.00" fill="#000" stroke="#000" stroke-width="0.116" stroke-linejoin="round">0</text>
<text transform="translate(393.84 282.42) scale(1.1052 1.4915)" font-family='"Liberation Serif", serif' font-style="normal" font-size="17.50" fill="#000">−</text>
<text transform="translate(407.65 278.07) scale(0.5192 0.6554)" font-family='"Liberation Serif", serif' font-style="normal" font-size="24.00" fill="#000" stroke="#000" stroke-width="0.426" stroke-linejoin="round">7</text>
<text transform="translate(416.81 301.71) scale(1.0401 0.9620)" font-family='"Liberation Serif", serif' font-style="normal" font-size="24.00" fill="#000" stroke="#000" stroke-width="0.120" stroke-linejoin="round">0</text>
<text transform="translate(518.32 301.71) scale(1.1771 0.9769)" font-family='"Liberation Serif", serif' font-style="normal" font-size="24.00" fill="#000" stroke="#000" stroke-width="0.111" stroke-linejoin="round">5</text>
<text transform="translate(614.20 301.65) scale(0.9770 0.9648)" font-family='"Liberation Serif", serif' font-style="normal" font-size="24.00" fill="#000" stroke="#000" stroke-width="0.124" stroke-linejoin="round">1</text>
<text transform="translate(628.31 301.71) scale(1.1033 0.9620)" font-family='"Liberation Serif", serif' font-style="normal" font-size="24.00" fill="#000" stroke="#000" stroke-width="0.116" stroke-linejoin="round">0</text>
<text transform="translate(356.35 254.47) rotate(-90) scale(0.9246 0.9747)" font-family='"Liberation Serif", serif' font-style="normal" font-size="24.00" fill="#000" stroke="#000" stroke-width="0.105" stroke-linejoin="round">A</text>
<text transform="translate(356.42 238.10) rotate(-90) scale(1.0711 0.9712)" font-family='"Liberation Serif", serif' font-style="normal" font-size="24.00" fill="#000" stroke="#000" stroke-width="0.098" stroke-linejoin="round">b</text>
<text transform="translate(356.42 224.98) rotate(-90) scale(1.1431 1.0023)" font-family='"Liberation Serif", serif' font-style="normal" font-size="24.00" fill="#000" stroke="#000" stroke-width="0.093" stroke-linejoin="round">s</text>
<text transform="translate(356.42 213.99) rotate(-90) scale(1.0434 1.0023)" font-family='"Liberation Serif", serif' font-style="normal" font-size="24.00" fill="#000" stroke="#000" stroke-width="0.098" stroke-linejoin="round">o</text>
<text transform="translate(356.35 201.09) rotate(-90) scale(0.9594 0.9667)" font-family='"Liberation Serif", serif' font-style="normal" font-size="24.00" fill="#000" stroke="#000" stroke-width="0.104" stroke-linejoin="round">l</text>
<text transform="translate(356.42 194.19) rotate(-90) scale(1.0893 1.0016)" font-family='"Liberation Serif", serif' font-style="normal" font-size="24.00" fill="#000" stroke="#000" stroke-width="0.096" stroke-linejoin="round">u</text>
<text transform="translate(356.40 180.35) rotate(-90) scale(1.2228 1.0696)" font-family='"Liberation Serif", serif' font-style="normal" font-size="24.00" fill="#000" stroke="#000" stroke-width="0.087" stroke-linejoin="round">t</text>
<text transform="translate(356.42 172.14) rotate(-90) scale(1.1713 1.0023)" font-family='"Liberation Serif", serif' font-style="normal" font-size="24.00" fill="#000" stroke="#000" stroke-width="0.092" stroke-linejoin="round">e</text>
<text transform="translate(356.35 152.19) rotate(-90) scale(0.9859 0.9827)" font-family='"Liberation Serif", serif' font-style="normal" font-size="24.00" fill="#000" stroke="#000" stroke-width="0.102" stroke-linejoin="round">E</text>
<text transform="translate(356.35 136.95) rotate(-90) scale(1.2781 0.9964)" font-family='"Liberation Serif", serif' font-style="normal" font-size="24.00" fill="#000" stroke="#000" stroke-width="0.088" stroke-linejoin="round">r</text>
<text transform="translate(356.35 126.75) rotate(-90) scale(1.2781 0.9964)" font-family='"Liberation Serif", serif' font-style="normal" font-size="24.00" fill="#000" stroke="#000" stroke-width="0.088" stroke-linejoin="round">r</text>
<text transform="translate(356.42 116.59) rotate(-90) scale(1.0434 1.0023)" font-family='"Liberation Serif", serif' font-style="normal" font-size="24.00" fill="#000" stroke="#000" stroke-width="0.098" stroke-linejoin="round">o</text>
<text transform="translate(356.35 103.70) rotate(-90) scale(1.2781 0.9964)" font-family='"Liberation Serif", serif' font-style="normal" font-size="24.00" fill="#000" stroke="#000" stroke-width="0.088" stroke-linejoin="round">r</text>
<text transform="translate(356.45 86.15) rotate(-90) scale(0.9841 0.9657)" font-family='"Liberation Serif", serif' font-style="normal" font-size="24.00" fill="#000" stroke="#000" stroke-width="0.103" stroke-linejoin="round">Δ</text>
<text transform="translate(355.23 69.17) rotate(-90) scale(0.8030 0.8800)" font-family='"Liberation Serif", serif' font-style="normal" font-size="24.00" fill="#000" stroke="#000" stroke-width="0.416" stroke-linejoin="round">(</text>
<text transform="translate(356.47 61.84) rotate(-90) scale(1.0534 0.9839)" font-family='"Liberation Serif", serif' font-style="italic" font-size="24.00" fill="#000">ω</text>
<text transform="translate(355.23 43.12) rotate(-90) scale(0.7706 0.8800)" font-family='"Liberation Serif", serif' font-style="normal" font-size="24.00" fill="#000" stroke="#000" stroke-width="0.424" stroke-linejoin="round">)</text>
<text transform="translate(429.98 29.23) scale(0.8972 0.9503)" font-family='"Liberation Sans", sans-serif' font-style="normal" font-size="17.00" fill="#000" stroke="#000" stroke-width="0.271" stroke-linejoin="round">(b)</text>
<g clip-path="url(#clipR)">
<path d="M424.20 141.30 L425.10 141.60 L428.40 177.00 L431.50 140.30 L433.30 142.90 L438.30 161.30 L441.80 142.20 L443.60 147.10 L448.40 160.00 L452.00 145.90 L455.80 160.40 L458.50 161.20 L462.30 149.60 L466.00 164.50 L469.50 166.40 L472.40 153.90 L475.50 168.00 L479.60 168.40 L482.70 155.60 L489.50 175.50 L492.90 159.30 L499.60 178.10 L503.40 160.70 L506.30 168.90 L510.00 189.50 L513.30 164.40 L516.60 171.10 L520.00 192.00 L523.40 165.10 L527.20 169.60 L530.40 217.00 L534.00 169.30 L536.30 170.40 L540.20 217.00 L544.00 170.00 L547.40 170.00 L550.80 207.50 L554.10 174.50 L557.80 173.00 L560.60 212.00 L565.40 172.30 L568.10 171.20 L571.40 192.60 L577.10 174.50 L581.30 196.00 L588.00 172.70 L589.80 175.70 L594.60 192.00 L598.80 179.00 L601.80 185.00 L604.00 189.50 L609.00 175.00 L611.60 179.60 L615.30 207.50 L619.00 179.50 L625.20 201.50 L629.50 177.80 L631.80 180.00 L635.70 262.50 L639.30 184.00 L642.50 184.00 L646.40 228.00 L650.40 180.50 L653.30 180.50 L656.30 208.00 L659.50 188.60 L662.70 184.70 L666.50 220.00 L669.50 186.50 L673.30 180.00 L679.20 194.50 L683.00 184.70" fill="none" stroke="#24262f" stroke-width="3.2" stroke-linejoin="round"/>
<path d="M428.00 112.30 L440.00 91.30 L451.20 95.86 L453.20 97.21 L455.20 98.67 L457.20 100.20 L459.20 101.79 L461.20 103.41 L463.20 105.04 L465.20 106.69 L467.20 108.34 L469.20 109.99 L471.20 111.62 L473.20 113.25 L475.20 114.85 L477.20 116.44 L479.20 118.01 L481.20 119.56 L483.20 121.09 L485.20 122.59 L487.20 124.07 L489.20 125.53 L491.20 126.96 L493.20 128.37 L495.20 129.76 L497.20 131.13 L499.20 132.47 L501.20 133.79 L503.20 135.09 L505.20 136.37 L507.20 137.62 L509.20 138.86 L511.20 140.07 L513.20 141.27 L515.20 142.45 L517.20 143.60 L519.20 144.74 L521.20 145.86 L523.20 146.96 L525.20 148.04 L527.20 149.11 L529.20 150.16 L531.20 151.19 L533.20 152.21 L535.20 153.21 L537.20 154.20 L539.20 155.17 L541.20 156.12 L543.20 157.06 L545.20 157.99 L547.20 158.91 L549.20 159.81 L551.20 160.69 L553.20 161.57 L555.20 162.43 L557.20 163.28 L559.20 164.12 L561.20 164.94 L563.20 165.76 L565.20 166.56 L567.20 167.35 L569.20 168.13 L571.20 168.90 L573.20 169.66 L575.20 170.41 L577.20 171.15 L579.20 171.88 L581.20 172.60 L583.20 173.31 L585.20 174.01 L587.20 174.70 L589.20 175.39 L591.20 176.06 L593.20 176.73 L595.20 177.38 L597.20 178.03 L599.20 178.68 L601.20 179.31 L603.20 179.93 L605.20 180.55 L607.20 181.16 L609.20 181.76 L611.20 182.36 L613.20 182.95 L615.20 183.53 L617.20 184.10 L619.20 184.67 L621.20 185.23 L623.20 185.79 L625.20 186.34 L627.20 186.88 L629.20 187.41 L631.20 187.94 L633.20 188.47 L635.20 188.98 L637.20 189.50 L639.20 190.00 L641.20 190.50 L643.20 191.00 L645.20 191.49 L647.20 191.97 L649.20 192.45 L651.20 192.92 L653.20 193.39 L655.20 193.85 L657.20 194.31 L659.20 194.77 L661.20 195.22 L663.20 195.66 L665.20 196.10 L667.20 196.53 L669.20 196.96 L671.20 197.39 L673.20 197.81 L675.20 198.23 L677.20 198.64 L679.20 199.05 L681.20 199.45 L683.20 199.85" fill="none" stroke="#ef5f60" stroke-width="3.2" stroke-linejoin="round"/>
<path d="M428.90 33.29 L429.90 34.93 L430.90 37.34 L431.90 40.12 L432.90 43.03 L433.90 45.97 L434.90 48.86 L435.90 51.68 L436.90 54.40 L437.90 57.02 L438.90 59.53 L439.90 61.93 L440.90 64.23 L441.90 66.43 L442.90 68.53 L443.90 70.55 L444.90 72.48 L445.90 74.32 L446.90 76.10 L447.90 77.80 L448.90 79.43 L449.90 81.01 L450.90 82.52 L451.90 83.97 L452.90 85.38 L453.90 86.73 L454.90 88.04 L455.90 89.30 L456.90 90.52 L457.90 91.70 L458.90 92.84 L459.90 93.94 L460.90 95.01 L461.90 96.05 L462.90 97.06 L463.90 98.04 L464.90 98.99 L465.90 99.91 L466.90 100.81 L467.90 101.69 L468.90 102.54 L469.90 103.37 L470.90 104.17 L471.90 104.96 L472.90 105.73 L473.90 106.48 L474.90 107.21 L475.90 107.93 L476.90 108.62 L477.90 109.31 L478.90 109.97 L479.90 110.63 L480.90 111.27 L481.90 111.89 L482.90 112.51 L483.90 113.11 L484.90 113.69 L485.90 114.27 L486.90 114.84 L487.90 115.39 L488.90 115.93 L489.90 116.47 L490.90 116.99 L491.90 117.51 L492.90 118.01 L493.90 118.51 L494.90 119.00 L495.90 119.48 L496.90 119.95 L497.90 120.42 L498.90 120.87 L499.90 121.32 L500.90 121.77 L501.90 122.20 L502.90 122.63 L503.90 123.05 L504.90 123.47 L505.90 123.88 L506.90 124.29 L507.90 124.68 L508.90 125.08 L509.90 125.47 L510.90 125.85 L511.90 126.23 L512.90 126.60 L513.90 126.97 L514.90 127.33 L515.90 127.69 L516.90 128.05 L517.90 128.40 L518.90 128.74 L519.90 129.08 L520.90 129.42 L521.90 129.75 L522.90 130.08 L523.90 130.41 L524.90 130.73 L525.90 131.05 L526.90 131.37 L527.90 131.68 L528.90 131.99 L529.90 132.30 L530.90 132.60 L531.90 132.90 L532.90 133.20 L533.90 133.49 L534.90 133.78 L535.90 134.07 L536.90 134.35 L537.90 134.64 L538.90 134.92 L539.90 135.19 L540.90 135.47 L541.90 135.74 L542.90 136.01 L543.90 136.28 L544.90 136.55 L545.90 136.81 L546.90 137.07 L547.90 137.33 L548.90 137.59 L549.90 137.84 L550.90 138.10 L551.90 138.35 L552.90 138.60 L553.90 138.85 L554.90 139.09 L555.90 139.34 L556.90 139.58 L557.90 139.82 L558.90 140.06 L559.90 140.29 L560.90 140.53 L561.90 140.76 L562.90 140.99 L563.90 141.23 L564.90 141.45 L565.90 141.68 L566.90 141.91 L567.90 142.13 L568.90 142.36 L569.90 142.58 L570.90 142.80 L571.90 143.02 L572.90 143.24 L573.90 143.45 L574.90 143.67 L575.90 143.88 L576.90 144.10 L577.90 144.31 L578.90 144.52 L579.90 144.73 L580.90 144.94 L581.90 145.14 L582.90 145.35 L583.90 145.56 L584.90 145.76 L585.90 145.96 L586.90 146.16 L587.90 146.37 L588.90 146.57 L589.90 146.77 L590.90 146.96 L591.90 147.16 L592.90 147.36 L593.90 147.55 L594.90 147.75 L595.90 147.94 L596.90 148.13 L597.90 148.33 L598.90 148.52 L599.90 148.71 L600.90 148.90 L601.90 149.09 L602.90 149.27 L603.90 149.46 L604.90 149.65 L605.90 149.83 L606.90 150.02 L607.90 150.20 L608.90 150.39 L609.90 150.57 L610.90 150.75 L611.90 150.93 L612.90 151.11 L613.90 151.29 L614.90 151.47 L615.90 151.65 L616.90 151.83 L617.90 152.01 L618.90 152.19 L619.90 152.36 L620.90 152.54 L621.90 152.71 L622.90 152.89 L623.90 153.06 L624.90 153.24 L625.90 153.41 L626.90 153.58 L627.90 153.75 L628.90 153.92 L629.90 154.10 L630.90 154.27 L631.90 154.44 L632.90 154.61 L633.90 154.77 L634.90 154.94 L635.90 155.11 L636.90 155.28 L637.90 155.45 L638.90 155.61 L639.90 155.78 L640.90 155.94 L641.90 156.11 L642.90 156.27 L643.90 156.44 L644.90 156.60 L645.90 156.77 L646.90 156.93 L647.90 157.09 L648.90 157.25 L649.90 157.42 L650.90 157.58 L651.90 157.74 L652.90 157.90 L653.90 158.06 L654.90 158.22 L655.90 158.38 L656.90 158.54 L657.90 158.70 L658.90 158.86 L659.90 159.01 L660.90 159.17 L661.90 159.33 L662.90 159.49 L663.90 159.64 L664.90 159.80 L665.90 159.96 L666.90 160.11 L667.90 160.27 L668.90 160.42 L669.90 160.58 L670.90 160.73 L671.90 160.89 L672.90 161.04 L673.90 161.20 L674.90 161.35 L675.90 161.50 L676.90 161.66 L677.90 161.81 L678.90 161.96 L679.90 162.11 L680.90 162.26 L681.90 162.42 L682.90 162.57 L683.90 162.72" fill="none" stroke="#4bb1b1" stroke-width="3.2" stroke-dasharray="10.9 4.7"/>
</g>
<path d="M580.5 28.2H612.1" stroke="#24262f" stroke-width="3.1" stroke-linecap="square"/>
<path d="M580.5 51.4H612.1" stroke="#ef5f60" stroke-width="3.1" stroke-linecap="square"/>
<path d="M580.4 74.3H612.6" stroke="#4bb1b1" stroke-width="3.1" stroke-dasharray="11.1 4.8"/>
<text transform="translate(625.12 33.34) scale(1.0633 0.9218)" font-family='"Liberation Serif", serif' font-style="normal" font-size="17.40" fill="#000" stroke="#000" stroke-width="0.101" stroke-linejoin="round">F</text>
<text transform="translate(635.33 33.34) scale(0.9845 0.9218)" font-family='"Liberation Serif", serif' font-style="normal" font-size="17.40" fill="#000" stroke="#000" stroke-width="0.105" stroke-linejoin="round">T</text>
<text transform="translate(645.99 33.55) scale(1.0240 0.9399)" font-family='"Liberation Serif", serif' font-style="normal" font-size="17.40" fill="#000" stroke="#000" stroke-width="0.102" stroke-linejoin="round">N</text>
<text transform="translate(659.27 33.39) scale(1.0799 0.9324)" font-family='"Liberation Serif", serif' font-style="normal" font-size="17.40" fill="#000" stroke="#000" stroke-width="0.099" stroke-linejoin="round">S</text>
<text transform="translate(624.99 56.45) scale(0.9165 0.8975)" font-family='"Liberation Serif", serif' font-style="normal" font-size="17.40" fill="#000" stroke="#000" stroke-width="0.110" stroke-linejoin="round">A</text>
<text transform="translate(636.38 56.49) scale(1.0782 0.9153)" font-family='"Liberation Serif", serif' font-style="normal" font-size="17.40" fill="#000" stroke="#000" stroke-width="0.100" stroke-linejoin="round">S</text>
<text transform="translate(624.60 79.08) scale(1.0758 0.9896)" font-family='"Liberation Serif", serif' font-style="italic" font-size="17.40" fill="#000" stroke="#000" stroke-width="0.097" stroke-linejoin="round">δ</text></svg></body></html>
